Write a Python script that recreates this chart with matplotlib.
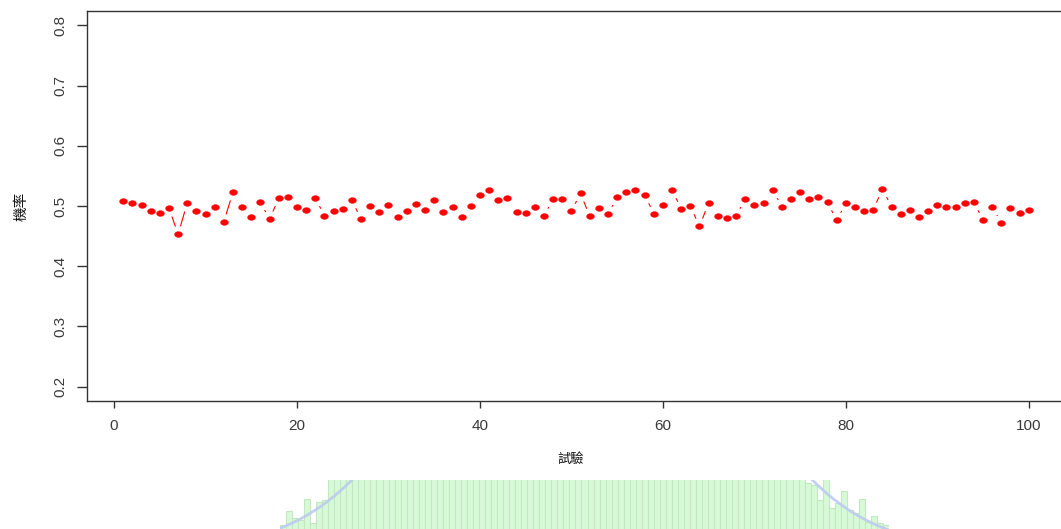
# -*- coding: utf-8 -*-

#   Importing Modules/Libraries/Packages
import numpy as np
import matplotlib
matplotlib.use('Agg')
import matplotlib.pyplot as plt
from matplotlib.path import Path
from matplotlib.markers import MarkerStyle



#   Data: probability of each trial
trials = np.arange(1, 101)
prob = [0.508, 0.505, 0.502, 0.491, 0.488, 0.497, 0.453, 0.505, 0.492, 0.486,
        0.498, 0.474, 0.523, 0.498, 0.482, 0.506, 0.478, 0.513, 0.515, 0.498,
        0.493, 0.513, 0.484, 0.492, 0.495, 0.510, 0.478, 0.500, 0.490, 0.502,
        0.482, 0.492, 0.503, 0.493, 0.510, 0.490, 0.499, 0.482, 0.500, 0.519,
        0.526, 0.510, 0.514, 0.490, 0.489, 0.498, 0.483, 0.512, 0.512, 0.492,
        0.521, 0.483, 0.497, 0.486, 0.515, 0.523, 0.526, 0.519, 0.487, 0.502,
        0.527, 0.495, 0.500, 0.466, 0.505, 0.483, 0.480, 0.483, 0.512, 0.502,
        0.505, 0.527, 0.499, 0.512, 0.523, 0.512, 0.515, 0.506, 0.476, 0.505,
        0.499, 0.492, 0.494, 0.528, 0.499, 0.487, 0.493, 0.481, 0.492, 0.501,
        0.499, 0.499, 0.505, 0.507, 0.476, 0.499, 0.472, 0.496, 0.489, 0.494]
x_ticks = [0, 20, 40, 60, 80, 100]
y_ticks = [0.2, 0.3, 0.4, 0.5, 0.6, 0.7, 0.8]
x_label = '試驗'
y_label = '機率'

#   Histogram peeking in below (bin counts)
hist_counts = [24, 38, 31, 29, 50, 26, 47, 49,
               75, 72, 88, 81, 94,
               102, 97, 118, 126, 121, 139, 150, 158,
               171, 183, 195, 204, 219, 226, 240, 251, 263, 270,
               284, 292, 301, 310, 322, 330, 338, 342, 351, 355,
               358, 362, 360, 364, 366, 363, 365, 361, 366, 364,
               362, 365, 359, 357, 352, 349, 343, 336, 329, 320,
               311, 300, 291, 280, 268, 257, 243, 231, 220, 207,
               193, 181, 169, 157, 145, 133, 122, 111, 101, 93,
               86, 80, 77, 74, 71, 72,
               66, 64, 49, 82, 41, 46, 58, 39, 36, 50, 27, 33, 26, 24]
hist_mean = 50.1
hist_sd = 20.9
hist_peak = 366



#   Figure
W, H = 1061, 529
fig = plt.figure(figsize=(W / 100, H / 100), dpi=100)
fig.patch.set_facecolor('white')

ax = fig.add_axes([87 / W, 128 / H, 978 / W, 390 / H])
ax.set_xlim(-2.96, 103.96)
ax.set_ylim(0.176, 0.824)

#   wide ellipse marker (device is stretched sideways)
t = np.linspace(0, 2 * np.pi, 60)
ell = Path(np.column_stack([1.35 * np.cos(t), np.sin(t)]))
ell_marker = MarkerStyle(ell)

#   type="b": line, then white halo to open gaps, then points
ax.plot(trials, prob, color='red', lw=0.8, zorder=1)
ax.plot(trials, prob, ls='none', marker=ell_marker, ms=16,
        mfc='white', mec='none', zorder=2)
ax.plot(trials, prob, ls='none', marker=ell_marker, ms=5.6,
        mfc='red', mec='red', mew=0.3, zorder=3)

for s in ax.spines.values():
    s.set_color('#333333')
    s.set_linewidth(1.0)

ax.set_xticks(x_ticks)
ax.set_xticklabels([str(v) for v in x_ticks], fontfamily='Liberation Sans',
                   fontsize=11, color='#3a3a3a')
ax.set_yticks(y_ticks)
ax.set_yticklabels([str(v) for v in y_ticks], fontfamily='Liberation Sans',
                   fontsize=11, color='#3a3a3a', rotation=90, va='center')
ax.tick_params(axis='x', length=5, width=1, color='#333333', pad=8)
ax.tick_params(axis='y', length=7.5, width=1, color='#333333', pad=6.5)

ax.set_xlabel(x_label, fontfamily=['Noto Sans CJK TC', 'DejaVu Sans'],
              fontsize=9.5, color='#111111', labelpad=14)
ax.xaxis.label.set_x((571 - 87) / 978)
ax.set_ylabel(y_label, fontfamily=['Noto Sans CJK TC', 'DejaVu Sans'],
              fontsize=10.5, color='#111111', labelpad=18)



#   Histogram strip at the bottom
hax = fig.add_axes([280 / W, 0, 609 / W, 49 / H])
nb = len(hist_counts)
hax.bar(np.arange(nb) + 0.5, hist_counts, width=1.0,
        color='#d8f9d8', edgecolor='#c0e9c0', linewidth=0.8)
xc = np.linspace(0, nb, 400)
hax.plot(xc, hist_peak * np.exp(-0.5 * ((xc - hist_mean) / hist_sd) ** 2),
         color='#bccbf0', lw=2.0, alpha=0.9)
hax.set_xlim(0, nb)
hax.set_ylim(20, 69)
hax.axis('off')

plt.savefig('out.png', dpi=100, facecolor='white')
